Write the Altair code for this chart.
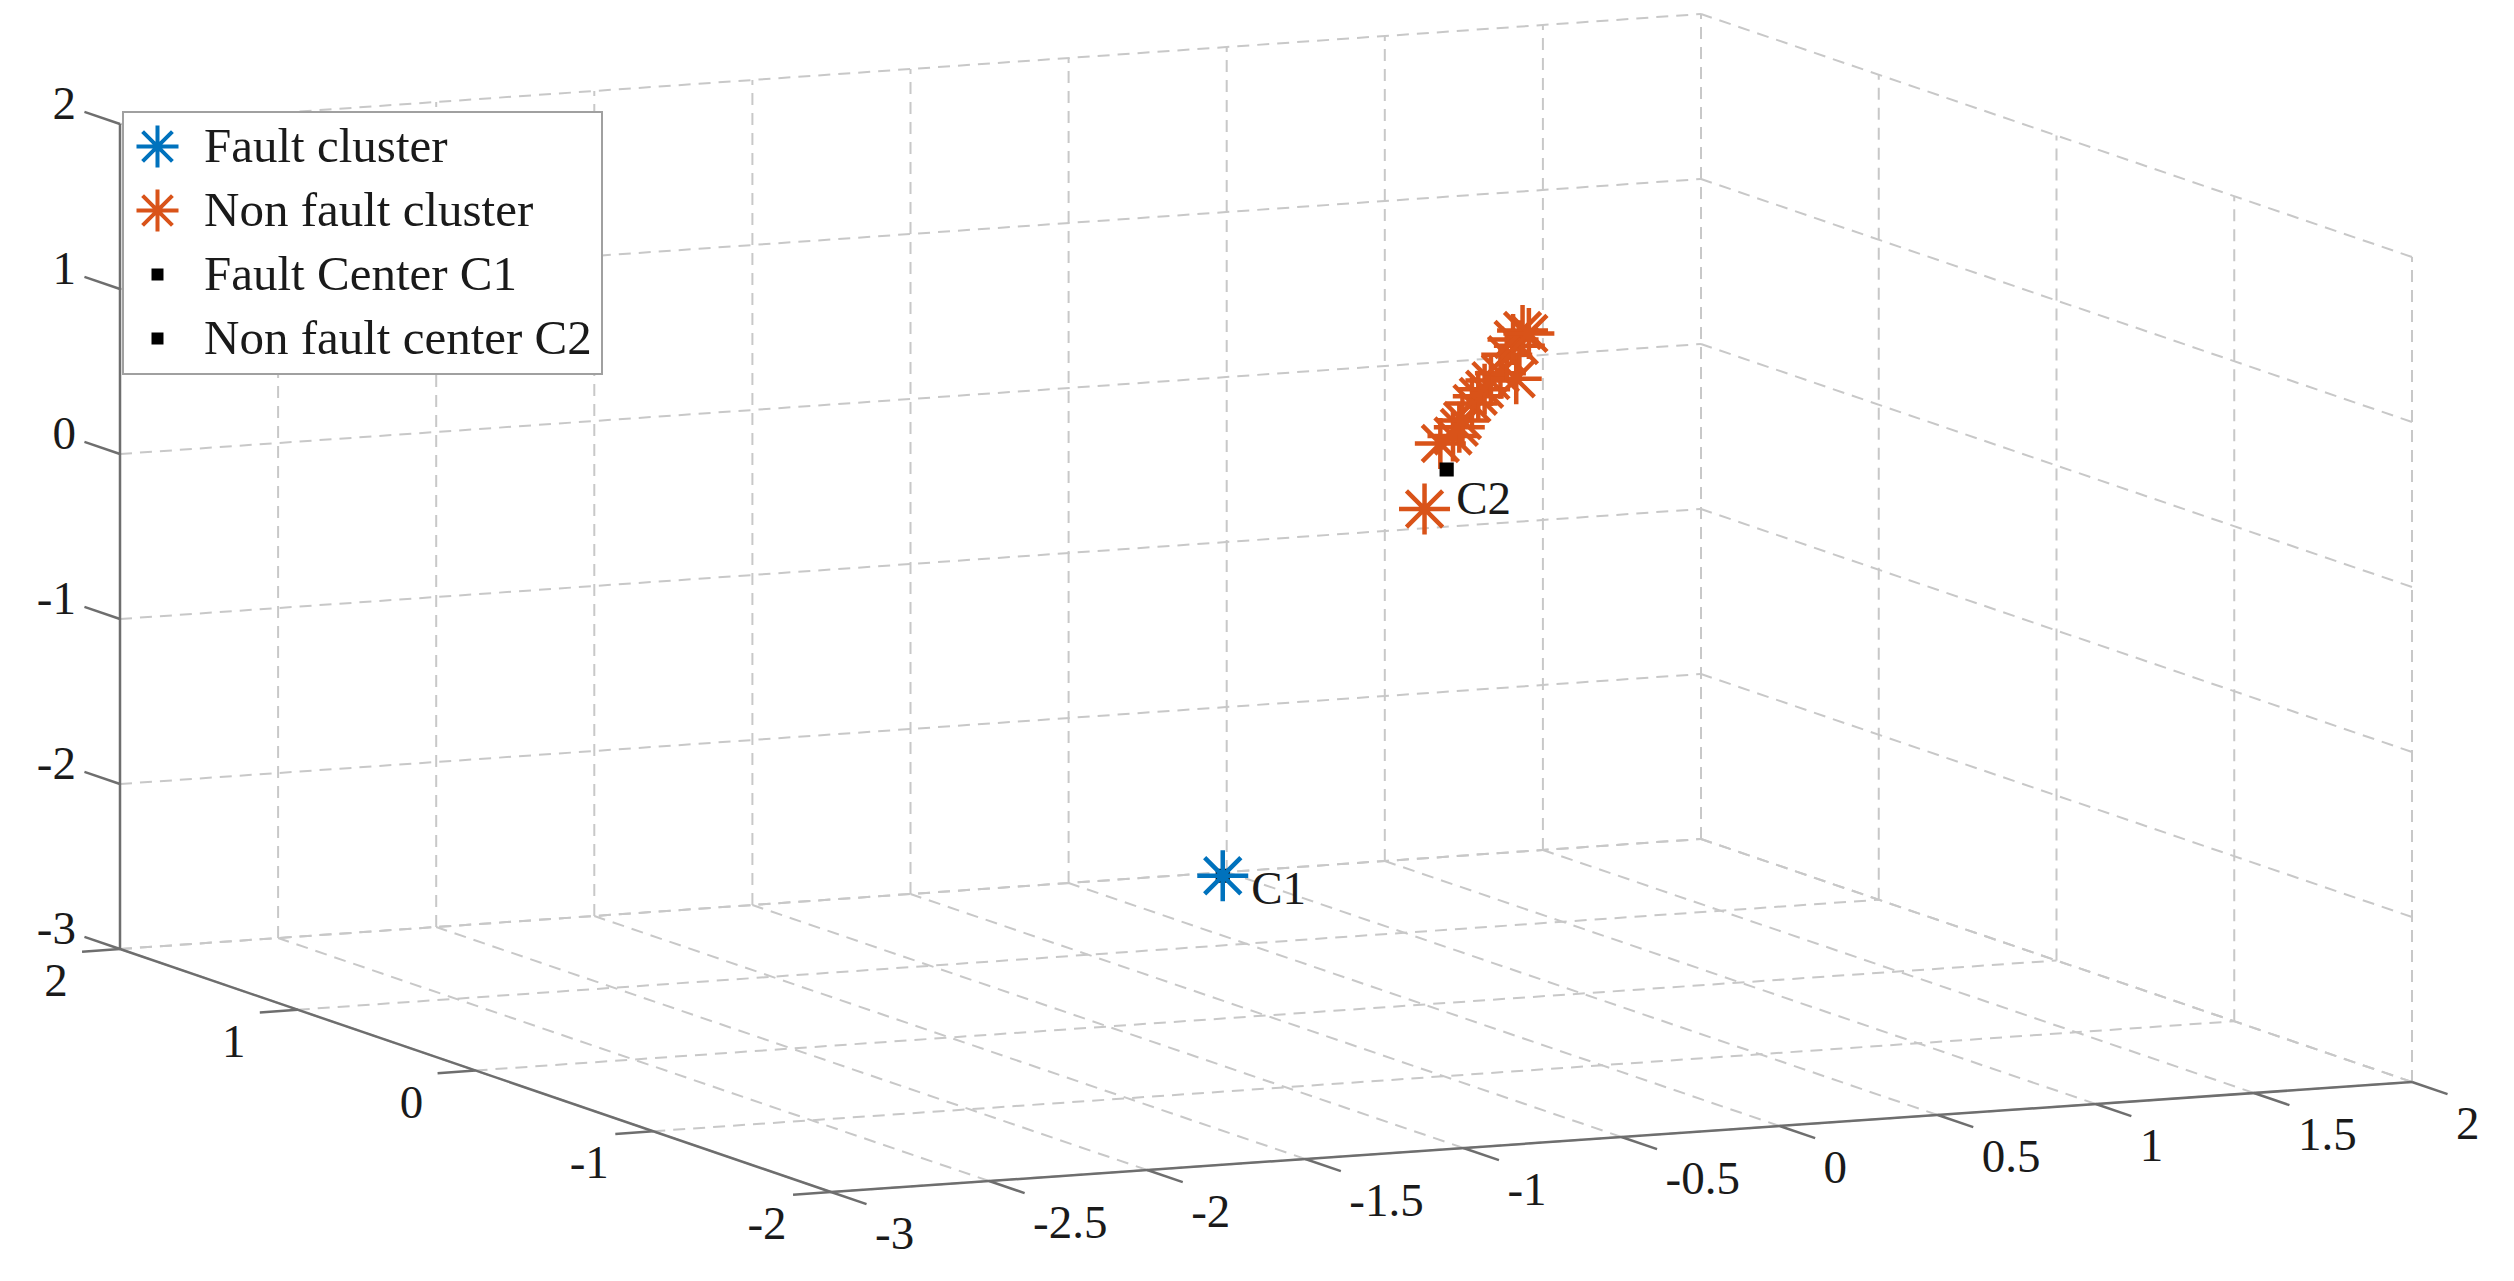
import altair as alt
import pandas as pd

# ---------------- data ----------------
x_ticks = [-3, -2.5, -2, -1.5, -1, -0.5, 0, 0.5, 1, 1.5, 2]
x_labels = ["-3", "-2.5", "-2", "-1.5", "-1", "-0.5", "0", "0.5", "1", "1.5", "2"]
y_ticks = [-2, -1, 0, 1, 2]
y_labels = ["-2", "-1", "0", "1", "2"]
z_ticks = [-3, -2, -1, 0, 1, 2]
z_labels = ["-3", "-2", "-1", "0", "1", "2"]

fault_x = [-1.48]
fault_y = [-1.5]
fault_z = [-1.47]

nonfault_x = [0.17, 0.22, 0.26, 0.28, 0.29, 0.32, 0.34, 0.36, 0.38, 0.41, 0.46, 0.43, 0.47, 0.45, 0.48, 0.50]
nonfault_y = [0.3] * 16
nonfault_z = [-0.13, 0.26, 0.30, 0.35, 0.39, 0.49, 0.53, 0.57, 0.62, 0.66, 0.62, 0.77, 0.82, 0.86, 0.91, 0.89]

center_names = ["Fault Center C1", "Non fault center C2"]
center_x = [-1.48, 0.24]
center_y = [-1.5, 0.3]
center_z = [-1.47, 0.10]

text_labels = ["C1", "C2"]
text_x = [-1.39, 0.27]
text_y = [-1.5, 0.3]
text_z = [-1.57, -0.09]

series_order = ["Fault cluster", "Non fault cluster", "Fault Center C1", "Non fault center C2"]
series_colors = ["#0072BD", "#D95319", "#000000", "#000000"]

# ---------------- 3-D view (orthographic projection to page pixels) ----------------
OX, OY = 1424.1, 509.5
EXX, EXY = 316.2, -22.0
EYX, EYY = -177.75, -60.75
EZY = -165.0


def sx(xf, yf):
    return f"{OX} + {EXX}*datum.{xf} + ({EYX})*datum.{yf}"


def sy(xf, yf, zf):
    return f"{OY} + ({EXY})*datum.{xf} + ({EYY})*datum.{yf} + ({EZY})*datum.{zf}"


W, H = 2498, 1265
xs = alt.Scale(domain=[8, 8 + W], nice=False, zero=False)
ys = alt.Scale(domain=[8, 8 + H], nice=False, zero=False, reverse=True)

XMIN, XMAX = min(x_ticks), max(x_ticks)
YMIN, YMAX = min(y_ticks), max(y_ticks)
ZMIN, ZMAX = min(z_ticks), max(z_ticks)

# grid segments on the three back planes
segs = []
for xt in x_ticks:
    segs.append((xt, YMIN, ZMIN, xt, YMAX, ZMIN))      # floor
    segs.append((xt, YMAX, ZMIN, xt, YMAX, ZMAX))      # back wall
for yt in y_ticks:
    segs.append((XMIN, yt, ZMIN, XMAX, yt, ZMIN))      # floor
    segs.append((XMAX, yt, ZMIN, XMAX, yt, ZMAX))      # side wall
for zt in z_ticks:
    segs.append((XMIN, YMAX, zt, XMAX, YMAX, zt))      # back wall
    segs.append((XMAX, YMIN, zt, XMAX, YMAX, zt))      # side wall
grid_df = pd.DataFrame(segs, columns=["x1", "y1", "z1", "x2", "y2", "z2"])

axes_df = pd.DataFrame([
    (XMIN, YMAX, ZMIN, XMIN, YMAX, ZMAX),   # z axis
    (XMIN, YMIN, ZMIN, XMIN, YMAX, ZMIN),   # y axis
    (XMIN, YMIN, ZMIN, XMAX, YMIN, ZMIN),   # x axis
], columns=["x1", "y1", "z1", "x2", "y2", "z2"])

TZ, TY, TX = 0.2, 0.12, 0.2
ticks = []
for zt in z_ticks:
    ticks.append((XMIN, YMAX, zt, XMIN, YMAX + TZ, zt))
for yt in y_ticks:
    ticks.append((XMIN, yt, ZMIN, XMIN - TY, yt, ZMIN))
for xt in x_ticks:
    ticks.append((xt, YMIN, ZMIN, xt, YMIN - TX, ZMIN))
ticks_df = pd.DataFrame(ticks, columns=["x1", "y1", "z1", "x2", "y2", "z2"])

xlab_df = pd.DataFrame({"x": x_ticks, "y": [YMIN] * len(x_ticks), "z": [ZMIN] * len(x_ticks), "t": x_labels})
ylab_df = pd.DataFrame({"x": [XMIN] * len(y_ticks), "y": y_ticks, "z": [ZMIN] * len(y_ticks), "t": y_labels})
zlab_df = pd.DataFrame({"x": [XMIN] * len(z_ticks), "y": [YMAX] * len(z_ticks), "z": z_ticks, "t": z_labels})

pts = []
pts.append(pd.DataFrame({"x": [center_x[0]], "y": [center_y[0]], "z": [center_z[0]], "series": [center_names[0]]}))
pts.append(pd.DataFrame({"x": fault_x, "y": fault_y, "z": fault_z, "series": "Fault cluster"}))
pts.append(pd.DataFrame({"x": nonfault_x, "y": nonfault_y, "z": nonfault_z, "series": "Non fault cluster"}))
pts.append(pd.DataFrame({"x": [center_x[1]], "y": [center_y[1]], "z": [center_z[1]], "series": [center_names[1]]}))
points_df = pd.concat(pts, ignore_index=True)

text_df = pd.DataFrame({"x": text_x, "y": text_y, "z": text_z, "t": text_labels})

FONT = "Liberation Serif"
FS = 47
TXT = "#1a1a1a"


def seg_layer(df, color, width, dash=None):
    kw = dict(color=color, strokeWidth=width)
    if dash:
        kw["strokeDash"] = dash
    return alt.Chart(df).mark_rule(**kw).transform_calculate(
        px1=sx("x1", "y1"), py1=sy("x1", "y1", "z1"),
        px2=sx("x2", "y2"), py2=sy("x2", "y2", "z2"),
    ).encode(
        x=alt.X("px1:Q", scale=xs, axis=None),
        y=alt.Y("py1:Q", scale=ys, axis=None),
        x2="px2:Q",
        y2="py2:Q",
    )


def text_layer(df, align, dx, dy):
    return alt.Chart(df).mark_text(
        font=FONT, fontSize=FS, color=TXT, align=align, baseline="middle", dx=dx, dy=dy
    ).transform_calculate(
        px=sx("x", "y"), py=sy("x", "y", "z")
    ).encode(
        x=alt.X("px:Q", scale=xs, axis=None),
        y=alt.Y("py:Q", scale=ys, axis=None),
        text="t:N",
    )


grid = seg_layer(grid_df, "#c8c8c8", 2, [12, 8])
axes = seg_layer(axes_df, "#6e6e6e", 2.5)
tick_marks = seg_layer(ticks_df, "#6e6e6e", 2.5)

xlab = text_layer(xlab_df, "left", 44, 43)
ylab = text_layer(ylab_df, "center", -64, 33)
zlab = text_layer(zlab_df, "right", -44, -19)
clab = text_layer(text_df, "left", 0, 0)

ASTERISK = "M-1,0L1,0M0,-1L0,1M-0.71,-0.71L0.71,0.71M-0.71,0.71L0.71,-0.71"
SMALL_SQUARE = ("M-0.19,-0.19L0.19,-0.19L0.19,0.19L-0.19,0.19Z"
                "M-0.19,-0.07L0.19,-0.07M-0.19,0.07L0.19,0.07")

points = alt.Chart(points_df).mark_point(filled=False, strokeWidth=4.5, opacity=1, size=2600).transform_calculate(
    px=sx("x", "y"), py=sy("x", "y", "z")
).encode(
    x=alt.X("px:Q", scale=xs, axis=None),
    y=alt.Y("py:Q", scale=ys, axis=None),
    color=alt.Color("series:N", scale=alt.Scale(domain=series_order, range=series_colors),
                    legend=alt.Legend(title=None)),
    shape=alt.Shape("series:N", scale=alt.Scale(domain=series_order,
                                                range=[ASTERISK, ASTERISK, SMALL_SQUARE, SMALL_SQUARE]),
                    legend=alt.Legend(title=None)),
)

chart = alt.layer(grid, axes, tick_marks, xlab, ylab, zlab, points, clab).properties(
    width=W, height=H, padding=0, autosize=alt.AutoSizeParams(type="none"),
    background="white",
).configure_view(stroke="transparent").configure_legend(
    orient="none", legendX=115, legendY=104,
    fillColor="white", strokeColor="#a0a0a0", strokeWidth=2, padding=10,
    labelFont=FONT, labelFontSize=49, labelColor=TXT, labelLimit=800, labelOffset=22,
    symbolSize=1764, symbolStrokeWidth=4, rowPadding=5, gridAlign="all",
)

chart.save("out.html", embed_options={"renderer": "svg", "actions": False})
